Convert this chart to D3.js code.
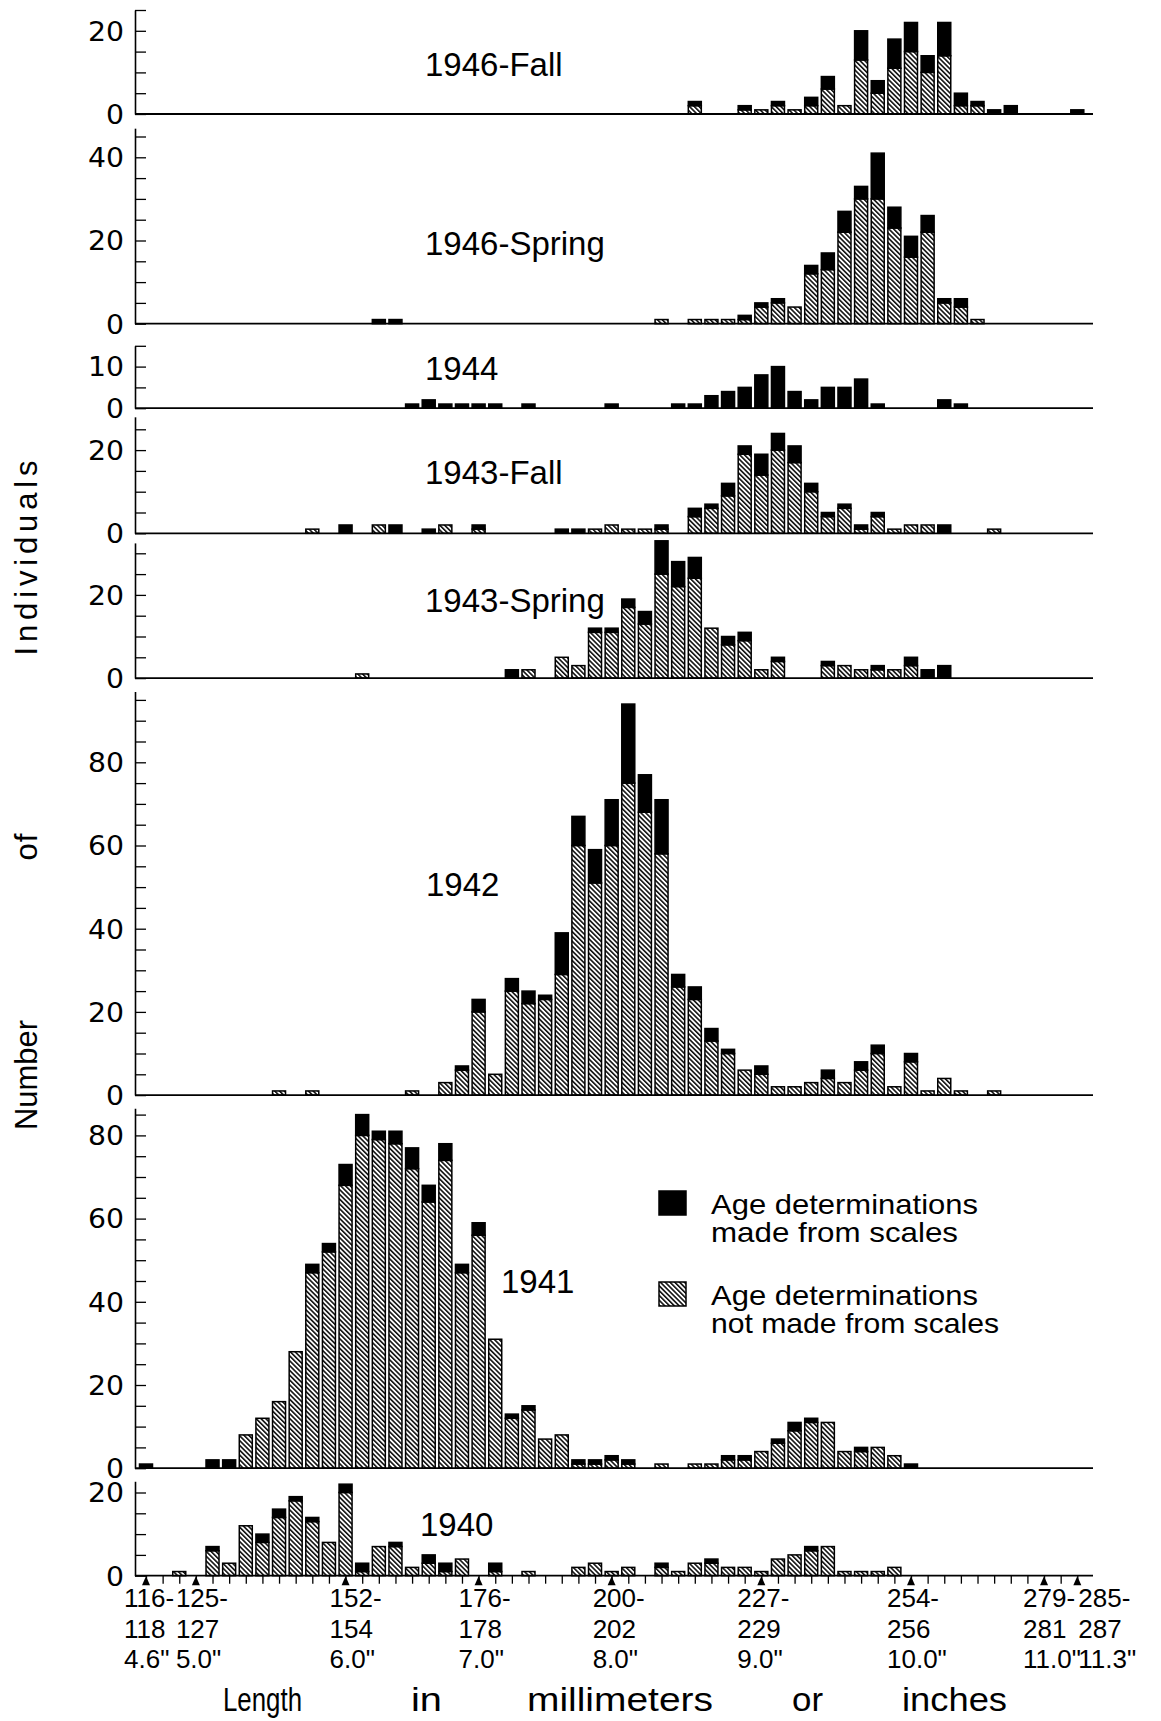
<!DOCTYPE html>
<html>
<head>
<meta charset="utf-8">
<script src="https://cdn.jsdelivr.net/npm/d3@7/dist/d3.min.js"></script>
<style>
  body { margin: 0; background: #fff; }
</style>
</head>
<body>
<div id="chart"></div>
<script>
// 3 mm length classes: index 0 = 116-118 mm ... index 56 = 285-287 mm
var bins = d3.range(57);

// [length class, not made from scales (hatched), made from scales (black)]
var fall1946 = [
  [33, 2, 1], [36, 1, 1], [37, 1, 0], [38, 2, 1], [39, 1, 0], [40, 2, 2], [41, 6, 3],
  [42, 2, 0], [43, 13, 7], [44, 5, 3], [45, 11, 7], [46, 15, 7], [47, 10, 4], [48, 14, 8],
  [49, 2, 3], [50, 2, 1], [51, 0, 1], [52, 0, 2], [56, 0, 1]
];
var spring1946 = [
  [14, 0, 1], [15, 0, 1], [31, 1, 0], [33, 1, 0], [34, 1, 0], [35, 1, 0], [36, 1, 1],
  [37, 4, 1], [38, 5, 1], [39, 4, 0], [40, 12, 2], [41, 13, 4], [42, 22, 5], [43, 30, 3],
  [44, 30, 11], [45, 23, 5], [46, 16, 5], [47, 22, 4], [48, 5, 1], [49, 4, 2], [50, 1, 0]
];
var year1944 = [
  [16, 0, 1], [17, 0, 2], [18, 0, 1], [19, 0, 1], [20, 0, 1], [21, 0, 1], [23, 0, 1],
  [28, 0, 1], [32, 0, 1], [33, 0, 1], [34, 0, 3], [35, 0, 4], [36, 0, 5], [37, 0, 8],
  [38, 0, 10], [39, 0, 4], [40, 0, 2], [41, 0, 5], [42, 0, 5], [43, 0, 7], [44, 0, 1],
  [48, 0, 2], [49, 0, 1]
];
var fall1943 = [
  [10, 1, 0], [12, 0, 2], [14, 2, 0], [15, 0, 2], [17, 0, 1], [18, 2, 0], [20, 1, 1],
  [25, 0, 1], [26, 0, 1], [27, 1, 0], [28, 2, 0], [29, 1, 0], [30, 1, 0], [31, 1, 1],
  [33, 4, 2], [34, 6, 1], [35, 9, 3], [36, 19, 2], [37, 14, 5], [38, 20, 4], [39, 17, 4],
  [40, 10, 2], [41, 4, 1], [42, 6, 1], [43, 1, 1], [44, 4, 1], [45, 1, 0], [46, 2, 0],
  [47, 2, 0], [48, 0, 2], [51, 1, 0]
];
var spring1943 = [
  [13, 1, 0], [22, 0, 2], [23, 2, 0], [25, 5, 0], [26, 3, 0], [27, 11, 1], [28, 11, 1],
  [29, 17, 2], [30, 13, 3], [31, 25, 8], [32, 22, 6], [33, 24, 5], [34, 12, 0], [35, 8, 2],
  [36, 9, 2], [37, 2, 0], [38, 4, 1], [41, 3, 1], [42, 3, 0], [43, 2, 0], [44, 2, 1],
  [45, 2, 0], [46, 3, 2], [47, 0, 2], [48, 0, 3]
];
var year1942 = [
  [8, 1, 0], [10, 1, 0], [16, 1, 0], [18, 3, 0], [19, 6, 1], [20, 20, 3], [21, 5, 0],
  [22, 25, 3], [23, 22, 3], [24, 23, 1], [25, 29, 10], [26, 60, 7], [27, 51, 8], [28, 60, 11],
  [29, 75, 19], [30, 68, 9], [31, 58, 13], [32, 26, 3], [33, 23, 3], [34, 13, 3], [35, 10, 1],
  [36, 6, 0], [37, 5, 2], [38, 2, 0], [39, 2, 0], [40, 3, 0], [41, 4, 2], [42, 3, 0],
  [43, 6, 2], [44, 10, 2], [45, 2, 0], [46, 8, 2], [47, 1, 0], [48, 4, 0], [49, 1, 0], [51, 1, 0]
];
var year1941 = [
  [0, 0, 1], [4, 0, 2], [5, 0, 2], [6, 8, 0], [7, 12, 0], [8, 16, 0], [9, 28, 0],
  [10, 47, 2], [11, 52, 2], [12, 68, 5], [13, 80, 5], [14, 79, 2], [15, 78, 3], [16, 72, 5],
  [17, 64, 4], [18, 74, 4], [19, 47, 2], [20, 56, 3], [21, 31, 0], [22, 12, 1], [23, 14, 1],
  [24, 7, 0], [25, 8, 0], [26, 1, 1], [27, 1, 1], [28, 2, 1], [29, 1, 1], [31, 1, 0],
  [33, 1, 0], [34, 1, 0], [35, 2, 1], [36, 2, 1], [37, 4, 0], [38, 6, 1], [39, 9, 2],
  [40, 11, 1], [41, 11, 0], [42, 4, 0], [43, 4, 1], [44, 5, 0], [45, 3, 0], [46, 0, 1]
];
var year1940 = [
  [2, 1, 0], [4, 6, 1], [5, 3, 0], [6, 12, 0], [7, 8, 2], [8, 14, 2], [9, 18, 1],
  [10, 13, 1], [11, 8, 0], [12, 20, 2], [13, 1, 2], [14, 7, 0], [15, 7, 1], [16, 2, 0],
  [17, 3, 2], [18, 1, 2], [19, 4, 0], [21, 1, 2], [23, 1, 0], [26, 2, 0], [27, 3, 0],
  [28, 1, 0], [29, 2, 0], [31, 2, 1], [32, 1, 0], [33, 3, 0], [34, 3, 1], [35, 2, 0],
  [36, 2, 0], [37, 1, 0], [38, 4, 0], [39, 5, 0], [40, 6, 1], [41, 7, 0], [42, 1, 0],
  [43, 1, 0], [44, 1, 0], [45, 2, 0]
];

var panelNames = ["1946-Fall", "1946-Spring", "1944", "1943-Fall", "1943-Spring", "1942", "1941", "1940"];
var panelData = [fall1946, spring1946, year1944, fall1943, spring1943, year1942, year1941, year1940];
var panelMax = [25, 47, 15, 28, 32.5, 97, 86.5, 22.7];
var panelTickLabels = [[0, 20], [0, 20, 40], [0, 10], [0, 20], [0, 20], [0, 20, 40, 60, 80], [0, 20, 40, 60, 80], [0, 20]];

// bottom axis
var arrowBins = [0, 3, 12, 20, 28, 37, 46, 54, 56];
var mmFrom = ["116-", "125-", "152-", "176-", "200-", "227-", "254-", "279-", "285-"];
var mmTo = ["118", "127", "154", "178", "202", "229", "256", "281", "287"];
var inchLabels = ['4.6"', '5.0"', '6.0"', '7.0"', '8.0"', '9.0"', '10.0"', '11.0"', '11.3"'];

var legendLabels = [["Age determinations", "made from scales"], ["Age determinations", "not made from scales"]];

// layout
var width = 1161, height = 1721;
var axisX = 135, lineEnd = 1093;
var unit = 4.16; // px per fish
var barW = 13;
var panelBase = [114, 323.7, 408.2, 533.3, 678.1, 1095.1, 1468.2, 1575.7];
var labelPos = [[425, 76], [425, 255], [425, 380], [425, 484], [425, 612], [426, 896], [501, 1293], [420, 1536]];
var labelDx = [-22, -20, -16, -20, -19, -24, -24, -21, 1];

var svg = d3.select("#chart").append("svg")
  .attr("width", width)
  .attr("height", height);

svg.append("rect").attr("width", width).attr("height", height).attr("fill", "#fff");

var defs = svg.append("defs");
var hatch = defs.append("pattern")
  .attr("id", "hatch")
  .attr("patternUnits", "userSpaceOnUse")
  .attr("width", 3.4)
  .attr("height", 3.4)
  .attr("patternTransform", "rotate(-45)");
hatch.append("rect").attr("width", 3.4).attr("height", 3.4).attr("fill", "#fff");
hatch.append("line")
  .attr("x1", 0.8).attr("x2", 0.8)
  .attr("y1", 0).attr("y2", 3.4)
  .attr("stroke", "#000")
  .attr("stroke-width", 1.5);

var x = d3.scaleLinear().domain([0, 56]).range([146, 1077.3]);

panelNames.forEach(function (name, p) {
  var base = panelBase[p];
  var top = panelMax[p];
  var data = panelData[p];
  var labels = panelTickLabels[p];

  var y = d3.scaleLinear().domain([0, top]).range([base, base - top * unit]);

  var g = svg.append("g").attr("class", "panel");

  // bars: hatched part first, black part stacked on top
  g.selectAll("rect.hatched")
    .data(data.filter(function (d) { return d[1] > 0; }))
    .enter().append("rect")
    .attr("class", "hatched")
    .attr("x", function (d) { return x(d[0]) - barW / 2; })
    .attr("y", function (d) { return y(d[1]); })
    .attr("width", barW)
    .attr("height", function (d) { return y(0) - y(d[1]); })
    .attr("fill", "url(#hatch)")
    .attr("stroke", "#000")
    .attr("stroke-width", 1.5);

  g.selectAll("rect.black")
    .data(data.filter(function (d) { return d[2] > 0; }))
    .enter().append("rect")
    .attr("class", "black")
    .attr("x", function (d) { return x(d[0]) - barW / 2; })
    .attr("y", function (d) { return y(d[1] + d[2]); })
    .attr("width", barW)
    .attr("height", function (d) { return y(d[1]) - y(d[1] + d[2]); })
    .attr("fill", "#000")
    .attr("stroke", "#000")
    .attr("stroke-width", 1.5);

  // baseline
  g.append("line")
    .attr("x1", axisX).attr("x2", lineEnd)
    .attr("y1", base).attr("y2", base)
    .attr("stroke", "#000")
    .attr("stroke-width", 1.8);

  // y axis, ticks every 5 pointing inward
  var yAxis = d3.axisLeft(y)
    .tickValues(d3.range(0, top + 0.01, 5))
    .tickSizeInner(-11)
    .tickSizeOuter(0)
    .tickPadding(11)
    .tickFormat(function (d) { return labels.indexOf(d) >= 0 ? d : ""; });

  var ax = g.append("g")
    .attr("transform", "translate(" + axisX + ",0)")
    .call(yAxis);
  ax.select(".domain").attr("stroke-width", 1.6);
  ax.selectAll(".tick line").attr("stroke-width", 1.3);
  ax.selectAll(".tick text")
    .style("font-family", "'DejaVu Sans', sans-serif")
    .style("font-size", "26px")
    .attr("textLength", function (d) { return labels.indexOf(d) >= 0 ? String(d).length * 18 : null; })
    .attr("lengthAdjust", "spacingAndGlyphs")
    .attr("dy", "0.36em");

  g.append("text")
    .attr("x", labelPos[p][0])
    .attr("y", labelPos[p][1])
    .style("font-family", "'Liberation Sans', Arial, sans-serif")
    .style("font-size", "33px")
    .text(name);
});

// bottom length axis
var bottom = panelBase[panelBase.length - 1];
var xAxis = d3.axisBottom(x).tickValues(bins).tickSize(8).tickSizeOuter(0).tickFormat("");
var xg = svg.append("g")
  .attr("transform", "translate(0," + bottom + ")")
  .call(xAxis);
xg.select(".domain").remove();
xg.selectAll(".tick line").attr("stroke-width", 1.3);

svg.selectAll("path.arrow")
  .data(arrowBins)
  .enter().append("path")
  .attr("class", "arrow")
  .attr("d", function (d) { return "M" + x(d) + "," + (bottom + 0.5) + "l-4,9h8z"; })
  .attr("fill", "#000");

var lineY = [1607, 1638, 1668];
[mmFrom, mmTo, inchLabels].forEach(function (arr, k) {
  svg.selectAll("text.xl" + k)
    .data(arr)
    .enter().append("text")
    .attr("class", "xl" + k)
    .attr("x", function (d, i) { return x(arrowBins[i]) + labelDx[i]; })
    .attr("y", lineY[k])
    .style("font-family", "'Liberation Sans', Arial, sans-serif")
    .style("font-size", "26px")
    .text(function (d) { return d; });
});

// axis titles: narrow glyphs, spaced letters
var xTitleWords = ["Length", "in", "millimeters", "or", "inches"];
var xTitleLeft = [223, 411, 527, 792, 902];
var xTitleLen = [79, 31, 186, 31, 105];
var xTitleSx = [0.75, 1.1, 0.75, 1.0, 0.8];
svg.selectAll("text.xt")
  .data(xTitleWords)
  .enter().append("text")
  .attr("class", "xt")
  .attr("transform", function (d, i) { return "translate(" + xTitleLeft[i] + ",1711) scale(" + xTitleSx[i] + ",1)"; })
  .attr("textLength", function (d, i) { return xTitleLen[i] / xTitleSx[i]; })
  .attr("lengthAdjust", "spacingAndGlyphs")
  .style("font-family", "'Liberation Sans', Arial, sans-serif")
  .style("font-size", "34px")
  .text(function (d) { return d; });

var yTitleWords = ["Individuals", "of", "Number"];
var yTitleCenter = [558, 847, 1075];
var yTitleLen = [195, 27, 110];
svg.selectAll("text.yt")
  .data(yTitleWords)
  .enter().append("text")
  .attr("class", "yt")
  .attr("transform", function (d, i) { return "translate(37," + yTitleCenter[i] + ") rotate(-90)"; })
  .attr("text-anchor", "middle")
  .attr("textLength", function (d, i) { return yTitleLen[i]; })
  .attr("lengthAdjust", "spacing")
  .style("font-family", "'Liberation Sans', Arial, sans-serif")
  .style("font-size", "31px")
  .text(function (d) { return d; });

// legend
var legendY = [1191, 1282];
var legendLen = [[267, 247], [267, 288]];
var legend = svg.selectAll("g.legend")
  .data(legendLabels)
  .enter().append("g")
  .attr("class", "legend")
  .attr("transform", function (d, i) { return "translate(659," + legendY[i] + ")"; });

legend.append("rect")
  .attr("width", 27)
  .attr("height", 24)
  .attr("fill", function (d, i) { return i === 0 ? "#000" : "url(#hatch)"; })
  .attr("stroke", "#000")
  .attr("stroke-width", 1.5);

legend.each(function (d, i) {
  var t = d3.select(this);
  d.forEach(function (line, k) {
    t.append("text")
      .attr("x", 52)
      .attr("y", 23 + k * 28)
      .attr("textLength", legendLen[i][k])
      .attr("lengthAdjust", "spacingAndGlyphs")
      .style("font-family", "'Liberation Sans', Arial, sans-serif")
      .style("font-size", "28px")
      .text(line);
  });
});
</script>
</body>
</html>
